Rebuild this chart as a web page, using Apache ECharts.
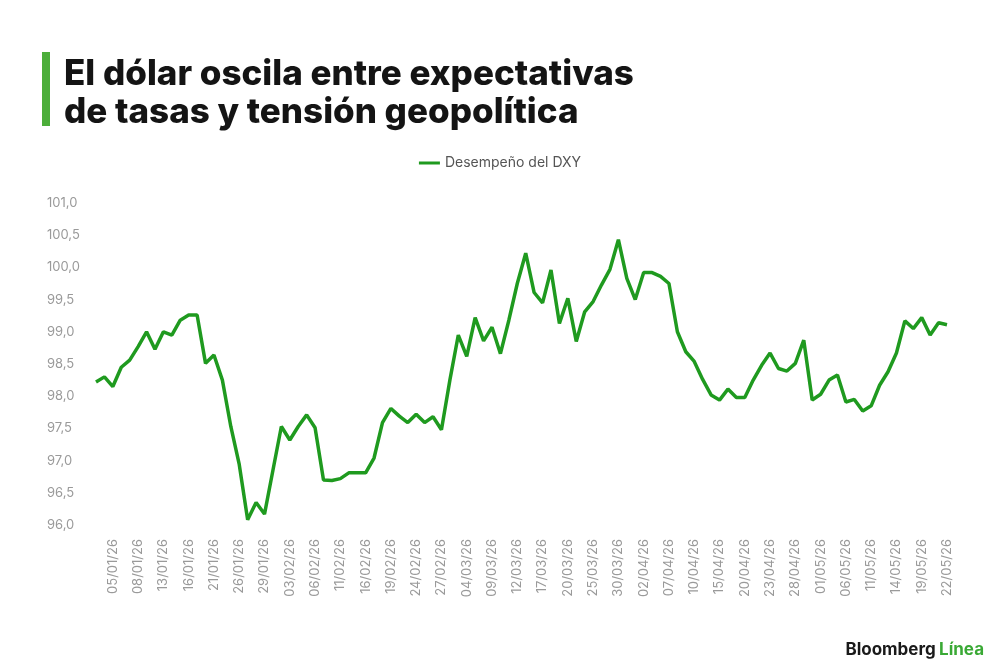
<!DOCTYPE html>
<html>
<head>
<meta charset="utf-8">
<script src="https://cdn.jsdelivr.net/npm/echarts@6/dist/echarts.min.js"></script>
<style>
html,body{margin:0;padding:0;background:#fff;}
#chart{width:1000px;height:660px;}
</style>
</head>
<body>
<div id="chart"></div>
<script>
var dates = [
 '01/01/26','02/01/26','05/01/26','06/01/26','07/01/26','08/01/26','09/01/26','12/01/26','13/01/26','14/01/26','15/01/26','16/01/26','19/01/26','20/01/26','21/01/26','22/01/26','23/01/26','26/01/26','27/01/26','28/01/26','29/01/26','30/01/26',
 '02/02/26','03/02/26','04/02/26','05/02/26','06/02/26','09/02/26','10/02/26','11/02/26','12/02/26','13/02/26','16/02/26','17/02/26','18/02/26','19/02/26','20/02/26','23/02/26','24/02/26','25/02/26','26/02/26','27/02/26',
 '02/03/26','03/03/26','04/03/26','05/03/26','06/03/26','09/03/26','10/03/26','11/03/26','12/03/26','13/03/26','16/03/26','17/03/26','18/03/26','19/03/26','20/03/26','23/03/26','24/03/26','25/03/26','26/03/26','27/03/26','30/03/26','31/03/26',
 '01/04/26','02/04/26','03/04/26','06/04/26','07/04/26','08/04/26','09/04/26','10/04/26','13/04/26','14/04/26','15/04/26','16/04/26','17/04/26','20/04/26','21/04/26','22/04/26','23/04/26','24/04/26','27/04/26','28/04/26','29/04/26','30/04/26',
 '01/05/26','04/05/26','05/05/26','06/05/26','07/05/26','08/05/26','11/05/26','12/05/26','13/05/26','14/05/26','15/05/26','18/05/26','19/05/26','20/05/26','21/05/26','22/05/26'
];
var dxy = [
 98.22,98.30,98.15,98.45,98.56,98.77,99.00,98.73,99.00,98.95,99.18,99.26,99.26,98.51,98.64,98.25,97.53,96.94,96.08,96.35,96.17,96.85,
 97.53,97.32,97.53,97.71,97.51,96.70,96.69,96.72,96.81,96.81,96.81,97.04,97.59,97.81,97.69,97.59,97.72,97.59,97.68,97.48,
 98.25,98.95,98.62,99.22,98.86,99.07,98.66,99.18,99.75,100.22,99.61,99.45,99.96,99.13,99.52,98.85,99.31,99.47,99.73,99.97,100.43,99.83,
 99.50,99.92,99.92,99.86,99.75,99.00,98.69,98.54,98.26,98.02,97.94,98.11,97.98,97.98,98.25,98.48,98.67,98.43,98.39,98.51,98.87,97.94,
 98.03,98.25,98.33,97.91,97.95,97.77,97.85,98.17,98.38,98.67,99.17,99.05,99.22,98.95,99.14,99.11
];
var titleLines = ['El dólar oscila entre expectativas', 'de tasas y tensión geopolítica'];
var seriesName = 'Desempeño del DXY';

var chart = echarts.init(document.getElementById('chart'), null, {renderer:'canvas'});
chart.setOption({
  backgroundColor:'#ffffff',
  animation:false,
  textStyle:{fontFamily:'Inter, Roboto, sans-serif'},
  title:{
    text: titleLines.join('\n'),
    left: 59, top: 50,
    textStyle:{fontFamily:'Inter, sans-serif', fontWeight:800, fontSize:35, lineHeight:38, color:'#141414'}
  },
  graphic:[
    {type:'rect', left:42, top:52, shape:{width:8, height:74}, style:{fill:'#4cae3a'}},
    {type:'text', right:16, top:641, style:{
      text:'{a|Bloomberg} {b|Línea}',
      rich:{
        a:{fontFamily:'Inter, sans-serif', fontWeight:700, fontSize:17, fill:'#1a1a1a'},
        b:{fontFamily:'Inter, sans-serif', fontWeight:700, fontSize:17, fill:'#3aa935'}
      }
    }}
  ],
  legend:{
    top:151, left:'center',
    itemWidth:21, itemHeight:3,
    icon:'rect',
    textStyle:{fontSize:14, color:'#555', fontFamily:'Inter, sans-serif'},
    data:[seriesName]
  },
  grid:{left:96, right:53, top:203, bottom:135, containLabel:false},
  xAxis:{
    type:'category', data:dates, boundaryGap:false,
    axisLine:{show:false}, axisTick:{show:false}, splitLine:{show:false},
    axisLabel:{
      rotate:90, margin:14, color:'#9a9a9a', fontSize:13,
      interval:function(idx){ return idx>=2 && (idx-2)%3===0; }
    }
  },
  yAxis:{
    type:'value', min:96, max:101, interval:0.5,
    axisLine:{show:false}, axisTick:{show:false}, splitLine:{show:false},
    axisLabel:{
      align:'left', margin:49, color:'#9a9a9a', fontSize:13,
      formatter:function(v){ return v.toFixed(1).replace('.', ','); }
    }
  },
  series:[{
    name:seriesName, type:'line', data:dxy,
    showSymbol:false, symbol:'none',
    lineStyle:{color:'#1f9a1f', width:3.5},
    itemStyle:{color:'#1f9a1f'}
  }]
});
</script>
</body>
</html>
